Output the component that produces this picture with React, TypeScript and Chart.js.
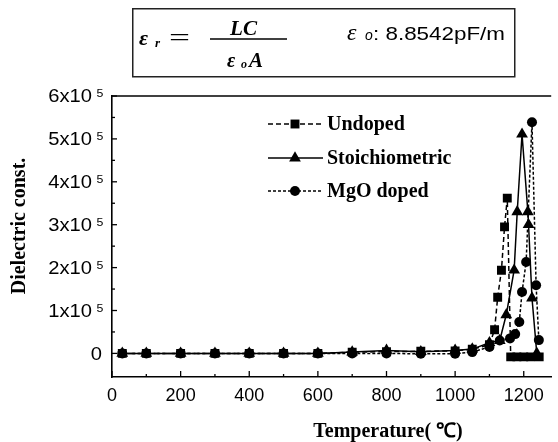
import React, { useEffect, useRef } from 'react';
import { Chart, registerables } from 'chart.js';

Chart.register(...registerables);

// ---- data (temperature in °C, dielectric constant) ----
const undopedTemp = [30, 100, 200, 300, 400, 500, 600, 700, 800, 900, 1000, 1050, 1100, 1115, 1124, 1135, 1144, 1152, 1162, 1180, 1200, 1220, 1245];
const undopedValue = [0, 0, 0, 0, 0, 0, 0, 3000, 4000, 5000, 6000, 10000, 20000, 55000, 131000, 194000, 295000, 362000, -8000, -8000, -8000, -8000, -8000];

const stoichTemp = [30, 100, 200, 300, 400, 500, 600, 700, 800, 900, 1000, 1050, 1100, 1130, 1149, 1172, 1181, 1195, 1212, 1214, 1224, 1238];
const stoichValue = [0, 0, 0, 0, 0, 0, 0, 3000, 7000, 4000, 7000, 10000, 25000, 30000, 90000, 194000, 330000, 511000, 330000, 300000, 129000, 0];

const mgoTemp = [30, 100, 200, 300, 400, 500, 600, 700, 800, 900, 1000, 1050, 1100, 1130, 1160, 1175, 1187, 1195, 1207, 1224, 1236, 1244];
const mgoValue = [0, 0, 0, 0, 0, 0, 0, 0, 0, -1000, -1000, 3000, 15000, 30000, 35000, 45000, 73000, 143000, 213000, 539000, 159000, 31000];

const seriesNames = ['Undoped', 'Stoichiometric', 'MgO doped'];
const xTickValues = [0, 200, 400, 600, 800, 1000, 1200];
const yTickMultiples = [0, 1, 2, 3, 4, 5, 6]; // x 10^5
const yTickLabels = ['0', '1x10', '2x10', '3x10', '4x10', '5x10', '6x10'];
const yTickExponent = '5';
const xTitle = 'Temperature( \u2103)';
const yTitle = 'Dielectric const.';

const toPoints = (t: number[], v: number[]) => t.map((x, i) => ({ x, y: v[i] }));

const SERIF = '"Liberation Serif", "Times New Roman", serif';
const SANS = '"Liberation Sans", Arial, sans-serif';

function drawMarker(ctx: CanvasRenderingContext2D, style: string, x: number, y: number, r: number) {
  ctx.beginPath();
  if (style === 'rect') {
    const s = Math.SQRT1_2 * r;
    ctx.rect(x - s, y - s, 2 * s, 2 * s);
  } else if (style === 'triangle') {
    ctx.moveTo(x, y - r);
    ctx.lineTo(x + r * 0.866, y + r * 0.5);
    ctx.lineTo(x - r * 0.866, y + r * 0.5);
    ctx.closePath();
  } else {
    ctx.arc(x, y, r, 0, Math.PI * 2);
  }
  ctx.fill();
}

const decorPlugin = {
  id: 'decor',
  afterDraw(chart: any) {
    const ctx: CanvasRenderingContext2D = chart.ctx;
    const { left, right, top, bottom } = chart.chartArea;
    const xs = chart.scales.x;
    const ys = chart.scales.y;
    ctx.save();
    ctx.strokeStyle = '#000';
    ctx.fillStyle = '#000';
    // frame: top line
    ctx.lineWidth = 1.6;
    ctx.beginPath();
    ctx.moveTo(left, top);
    ctx.lineTo(right, top);
    ctx.stroke();
    // inward ticks on x
    ctx.lineWidth = 1.3;
    for (let v = 0; v <= 1200; v += 100) {
      const px = xs.getPixelForValue(v);
      const len = v % 200 === 0 ? 6 : 3;
      ctx.beginPath();
      ctx.moveTo(px, bottom);
      ctx.lineTo(px, bottom - len);
      ctx.stroke();
    }
    // inward ticks on y
    for (let v = 0; v <= 600000; v += 50000) {
      const py = ys.getPixelForValue(v);
      const len = v % 100000 === 0 ? 5 : 3;
      ctx.beginPath();
      ctx.moveTo(left, py);
      ctx.lineTo(left + len, py);
      ctx.stroke();
    }
    // y tick labels with superscript exponent
    const sx = 1.12;
    yTickMultiples.forEach((m, i) => {
      const py = ys.getPixelForValue(m * 100000);
      const base = py + 6.4;
      ctx.textBaseline = 'alphabetic';
      ctx.textAlign = 'right';
      ctx.font = '18px ' + SANS;
      if (m === 0) {
        ctx.save();
        ctx.translate(102, base);
        ctx.scale(sx, 1);
        ctx.fillText(yTickLabels[i], 0, 0);
        ctx.restore();
      } else {
        ctx.save();
        ctx.translate(92, base);
        ctx.scale(sx, 1);
        ctx.fillText(yTickLabels[i], 0, 0);
        ctx.restore();
        ctx.font = '11px ' + SANS;
        ctx.textAlign = 'left';
        ctx.save();
        ctx.translate(96.5, base - 5);
        ctx.scale(sx, 1);
        ctx.fillText(yTickExponent, 0, 0);
        ctx.restore();
      }
    });
    // axis titles
    ctx.font = 'bold 20px ' + SERIF;
    ctx.textAlign = 'center';
    ctx.textBaseline = 'middle';
    ctx.fillText(xTitle, 388, 432);
    ctx.save();
    ctx.translate(20, 226);
    ctx.rotate(-Math.PI / 2);
    ctx.fillText(yTitle, 0, 0);
    ctx.restore();
    // legend
    const rows = [124, 158, 191];
    chart.data.datasets.forEach((ds: any, i: number) => {
      const y = rows[i];
      ctx.save();
      ctx.lineWidth = 1.4;
      ctx.setLineDash(ds.borderDash || []);
      ctx.beginPath();
      ctx.moveTo(268, y);
      ctx.lineTo(323, y);
      ctx.stroke();
      ctx.restore();
      drawMarker(ctx, ds.pointStyle, 295, y, ds.pointRadius);
      ctx.font = 'bold 20px ' + SERIF;
      ctx.textAlign = 'left';
      ctx.textBaseline = 'middle';
      ctx.fillText(seriesNames[i], 327, y + 1);
    });
    ctx.restore();
  },
};

export default function App() {
  const canvasRef = useRef<HTMLCanvasElement | null>(null);

  useEffect(() => {
    if (!canvasRef.current) return;
    const common = {
      borderColor: '#000',
      backgroundColor: '#000',
      pointBackgroundColor: '#000',
      pointBorderColor: '#000',
      pointBorderWidth: 0,
      borderWidth: 1.5,
      tension: 0,
      fill: false,
    };
    const chart = new Chart(canvasRef.current, {
      type: 'line',
      data: {
        datasets: [
          { ...common, label: seriesNames[0], data: toPoints(undopedTemp, undopedValue), pointStyle: 'rect', pointRadius: 6.3, borderDash: [5, 3] },
          { ...common, label: seriesNames[1], data: toPoints(stoichTemp, stoichValue), pointStyle: 'triangle', pointRadius: 6.8 },
          { ...common, label: seriesNames[2], data: toPoints(mgoTemp, mgoValue), pointStyle: 'circle', pointRadius: 5 , borderDash: [3, 2] },
        ],
      },
      options: {
        animation: false,
        responsive: false,
        maintainAspectRatio: false,
        layout: { padding: { top: 96, right: 1, left: 0, bottom: 0 } },
        plugins: { legend: { display: false }, tooltip: { enabled: false } },
        scales: {
          x: {
            type: 'linear',
            min: 0,
            max: 1280,
            afterFit: (s: any) => { s.height = 65; },
            afterBuildTicks: (s: any) => { s.ticks = xTickValues.map((v) => ({ value: v })); },
            ticks: {
              color: '#000',
              font: { family: SANS, size: 18 },
              padding: 8,
              maxRotation: 0,
              autoSkip: false,
              callback: (v: any) => String(v),
            },
            grid: { display: false, drawTicks: false },
            border: { display: true, color: '#000', width: 1.6 },
          },
          y: {
            type: 'linear',
            min: -55000,
            max: 600000,
            afterFit: (s: any) => { s.width = 112; },
            ticks: { display: false },
            grid: { display: false, drawTicks: false },
            border: { display: true, color: '#000', width: 1.6 },
          },
        },
      } as any,
      plugins: [decorPlugin],
    });
    return () => chart.destroy();
  }, []);

  return (
    <div style={{ position: 'absolute', left: 0, top: 0, width: 558, height: 442, background: '#fff' }}>
      <canvas ref={canvasRef} width={558} height={442} style={{ display: 'block', position: 'absolute', left: 0, top: 0 }} />
      <svg width={558} height={82} style={{ position: 'absolute', left: 0, top: 0 }}>
        <rect x={132.75} y={8.75} width={382} height={68} fill="none" stroke="#222" strokeWidth={1.5} />
        <text x={139} y={45} fontFamily={SERIF} fontStyle="italic" fontWeight="bold" fontSize={22}>ε</text>
        <text x={155} y={47} fontFamily={SERIF} fontStyle="italic" fontWeight="bold" fontSize={13}>r</text>
        <text x={169} y={45} fontFamily={SERIF} fontSize={24} textLength={21} lengthAdjust="spacingAndGlyphs">=</text>
        <text x={230} y={35} fontFamily={SERIF} fontStyle="italic" fontWeight="bold" fontSize={20} textLength={27} lengthAdjust="spacingAndGlyphs">LC</text>
        <line x1={210} y1={39} x2={287} y2={39} stroke="#000" strokeWidth={1.5} />
        <text x={227} y={67} fontFamily={SERIF} fontStyle="italic" fontWeight="bold" fontSize={20}>ε</text>
        <text x={241} y={68} fontFamily={SERIF} fontStyle="italic" fontWeight="bold" fontSize={12}>o</text>
        <text x={249} y={67} fontFamily={SERIF} fontStyle="italic" fontWeight="bold" fontSize={21}>A</text>
        <text x={347} y={40} fontFamily={SERIF} fontStyle="italic" fontSize={24}>ε</text>
        <text x={365} y={40} fontFamily={SANS} fontStyle="italic" fontSize={14}>o</text>
        <text x={373} y={40} fontFamily={SANS} fontSize={19} textLength={132} lengthAdjust="spacingAndGlyphs">: 8.8542pF/m</text>
      </svg>
    </div>
  );
}
